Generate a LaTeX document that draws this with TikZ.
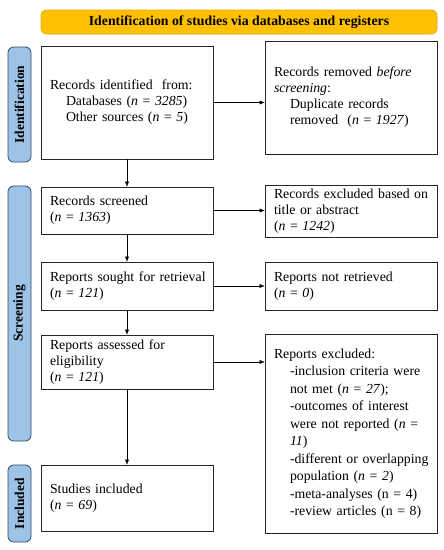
\documentclass[tikz,border=0pt]{standalone}
\usepackage{fontspec}
\setmainfont{Liberation Serif}
\usepackage{tikz}
\usetikzlibrary{positioning, arrows.meta}
\definecolor{headcolor}{HTML}{FFC000}
\definecolor{headline}{HTML}{E3A800}
\definecolor{phasecolor}{HTML}{9DC3E6}
\definecolor{phaseline}{HTML}{2E4A66}
\newcommand{\ind}{\hspace*{16pt}}
\newcommand{\nn}[1]{(\textit{n} = \textit{#1})}

\begin{document}
\begin{tikzpicture}[
      % GLOBAL CFG
      x=1pt, y=-1pt,
      font=\fontsize{13.8}{16}\selectfont,
      >={Latex[length=5pt,width=4pt]},
      % Styles
      header/.style={% For the top banner
        rectangle,
        rounded corners=2mm,
        draw=headline,
        fill=headcolor,
        thick,
        minimum width=396pt,
        minimum height=24pt,
        font=\fontsize{13.8}{16}\selectfont\bfseries
      },
      phase/.style={% For the side labels
        rectangle,
        rounded corners=2mm,
        draw=phaseline,
        fill=phasecolor,
        thick,
        rotate=90,
        minimum height=23pt,
        inner sep=0pt,
        font=\fontsize{13.5}{16}\selectfont\bfseries
      },
      record/.style={% For the boxes
        rectangle,
        draw=black!85,
        semithick,
        minimum width=172pt,
        text width=154pt,
        inner xsep=9pt,
        inner ysep=0pt,
        align=left,
        execute at begin node={\rightskip=0pt plus 1fil minus 14pt\hyphenpenalty=10000\relax}
      },
      arrowflow/.style={% Arrows between boxes
        thin,
        ->,
      }
      ]

      \useasboundingbox (0,0) rectangle (444,550);

      % Banner and side labels
      \node [header] (banner) at (239,22) {Identification of studies via databases and registers};
      \node [phase, minimum width=115pt] (identification) at (19.5,104.5) {Identification};
      \node [phase, minimum width=255pt] (screening) at (19.5,313.5) {Screening};
      \node [phase, minimum width=77pt] (included) at (19.5,503.5) {Included};

      % Left column
      \node [record, minimum height=113pt] (identified) at (127,102.5)
        {Records identified\ \ from:\\ \ind Databases \nn{3285}\\ \ind Other sources \nn{5}};
      \node [record, minimum height=47pt] (screened) at (127,210.5)
        {Records screened\\ \nn{1363}};
      \node [record, minimum height=48pt] (sought) at (127,286)
        {Reports sought for retrieval\\ \nn{121}};
      \node [record, minimum height=54pt] (assessed) at (127,362)
        {Reports assessed for\\ eligibility\\ \nn{121}};
      \node [record, minimum height=66pt] (studies) at (127,498)
        {Studies included\\ \nn{69}};

      % Right column
      \node [record, minimum height=113pt] (removed) at (351,97.5)
        {Records removed \textit{before}\\ \textit{screening}:\\ \ind Duplicate records\\ \ind removed\ \ \nn{1927}};
      \node [record, minimum height=52pt] (titleexcl) at (351,211)
        {Records excluded based on\\ title or abstract\\ \nn{1242}};
      \node [record, minimum height=48pt] (notretrieved) at (351,286)
        {Reports not retrieved\\ \nn{0}};
      \node [record, minimum height=199pt, font=\fontsize{13.8}{17.5}\selectfont] (reportsexcl) at (351,433.5)
        {Reports excluded:\\
         \ind -inclusion criteria were\\
         \ind not met \nn{27};\\
         \ind -outcomes of interest\\
         \ind were not reported (\textit{n} =\\
         \ind \textit{11})\\
         \ind -different or overlapping\\
         \ind population \nn{2}\\
         \ind -meta-analyses (n = 4)\\
         \ind -review articles (n = 8)};

      % Arrows down the main flow
      \draw [arrowflow] (identified) -- (screened);
      \draw [arrowflow] (screened) -- (sought);
      \draw [arrowflow] (sought) -- (assessed);
      \draw [arrowflow] (assessed) -- (studies);

      % Arrows to the exclusions
      \draw [arrowflow] (identified.east) -- (identified.east -| removed.west);
      \draw [arrowflow] (screened.east) -- (screened.east -| titleexcl.west);
      \draw [arrowflow] (sought.east) -- (sought.east -| notretrieved.west);
      \draw [arrowflow] (assessed.east) -- (assessed.east -| reportsexcl.west);

    \end{tikzpicture}
\end{document}
